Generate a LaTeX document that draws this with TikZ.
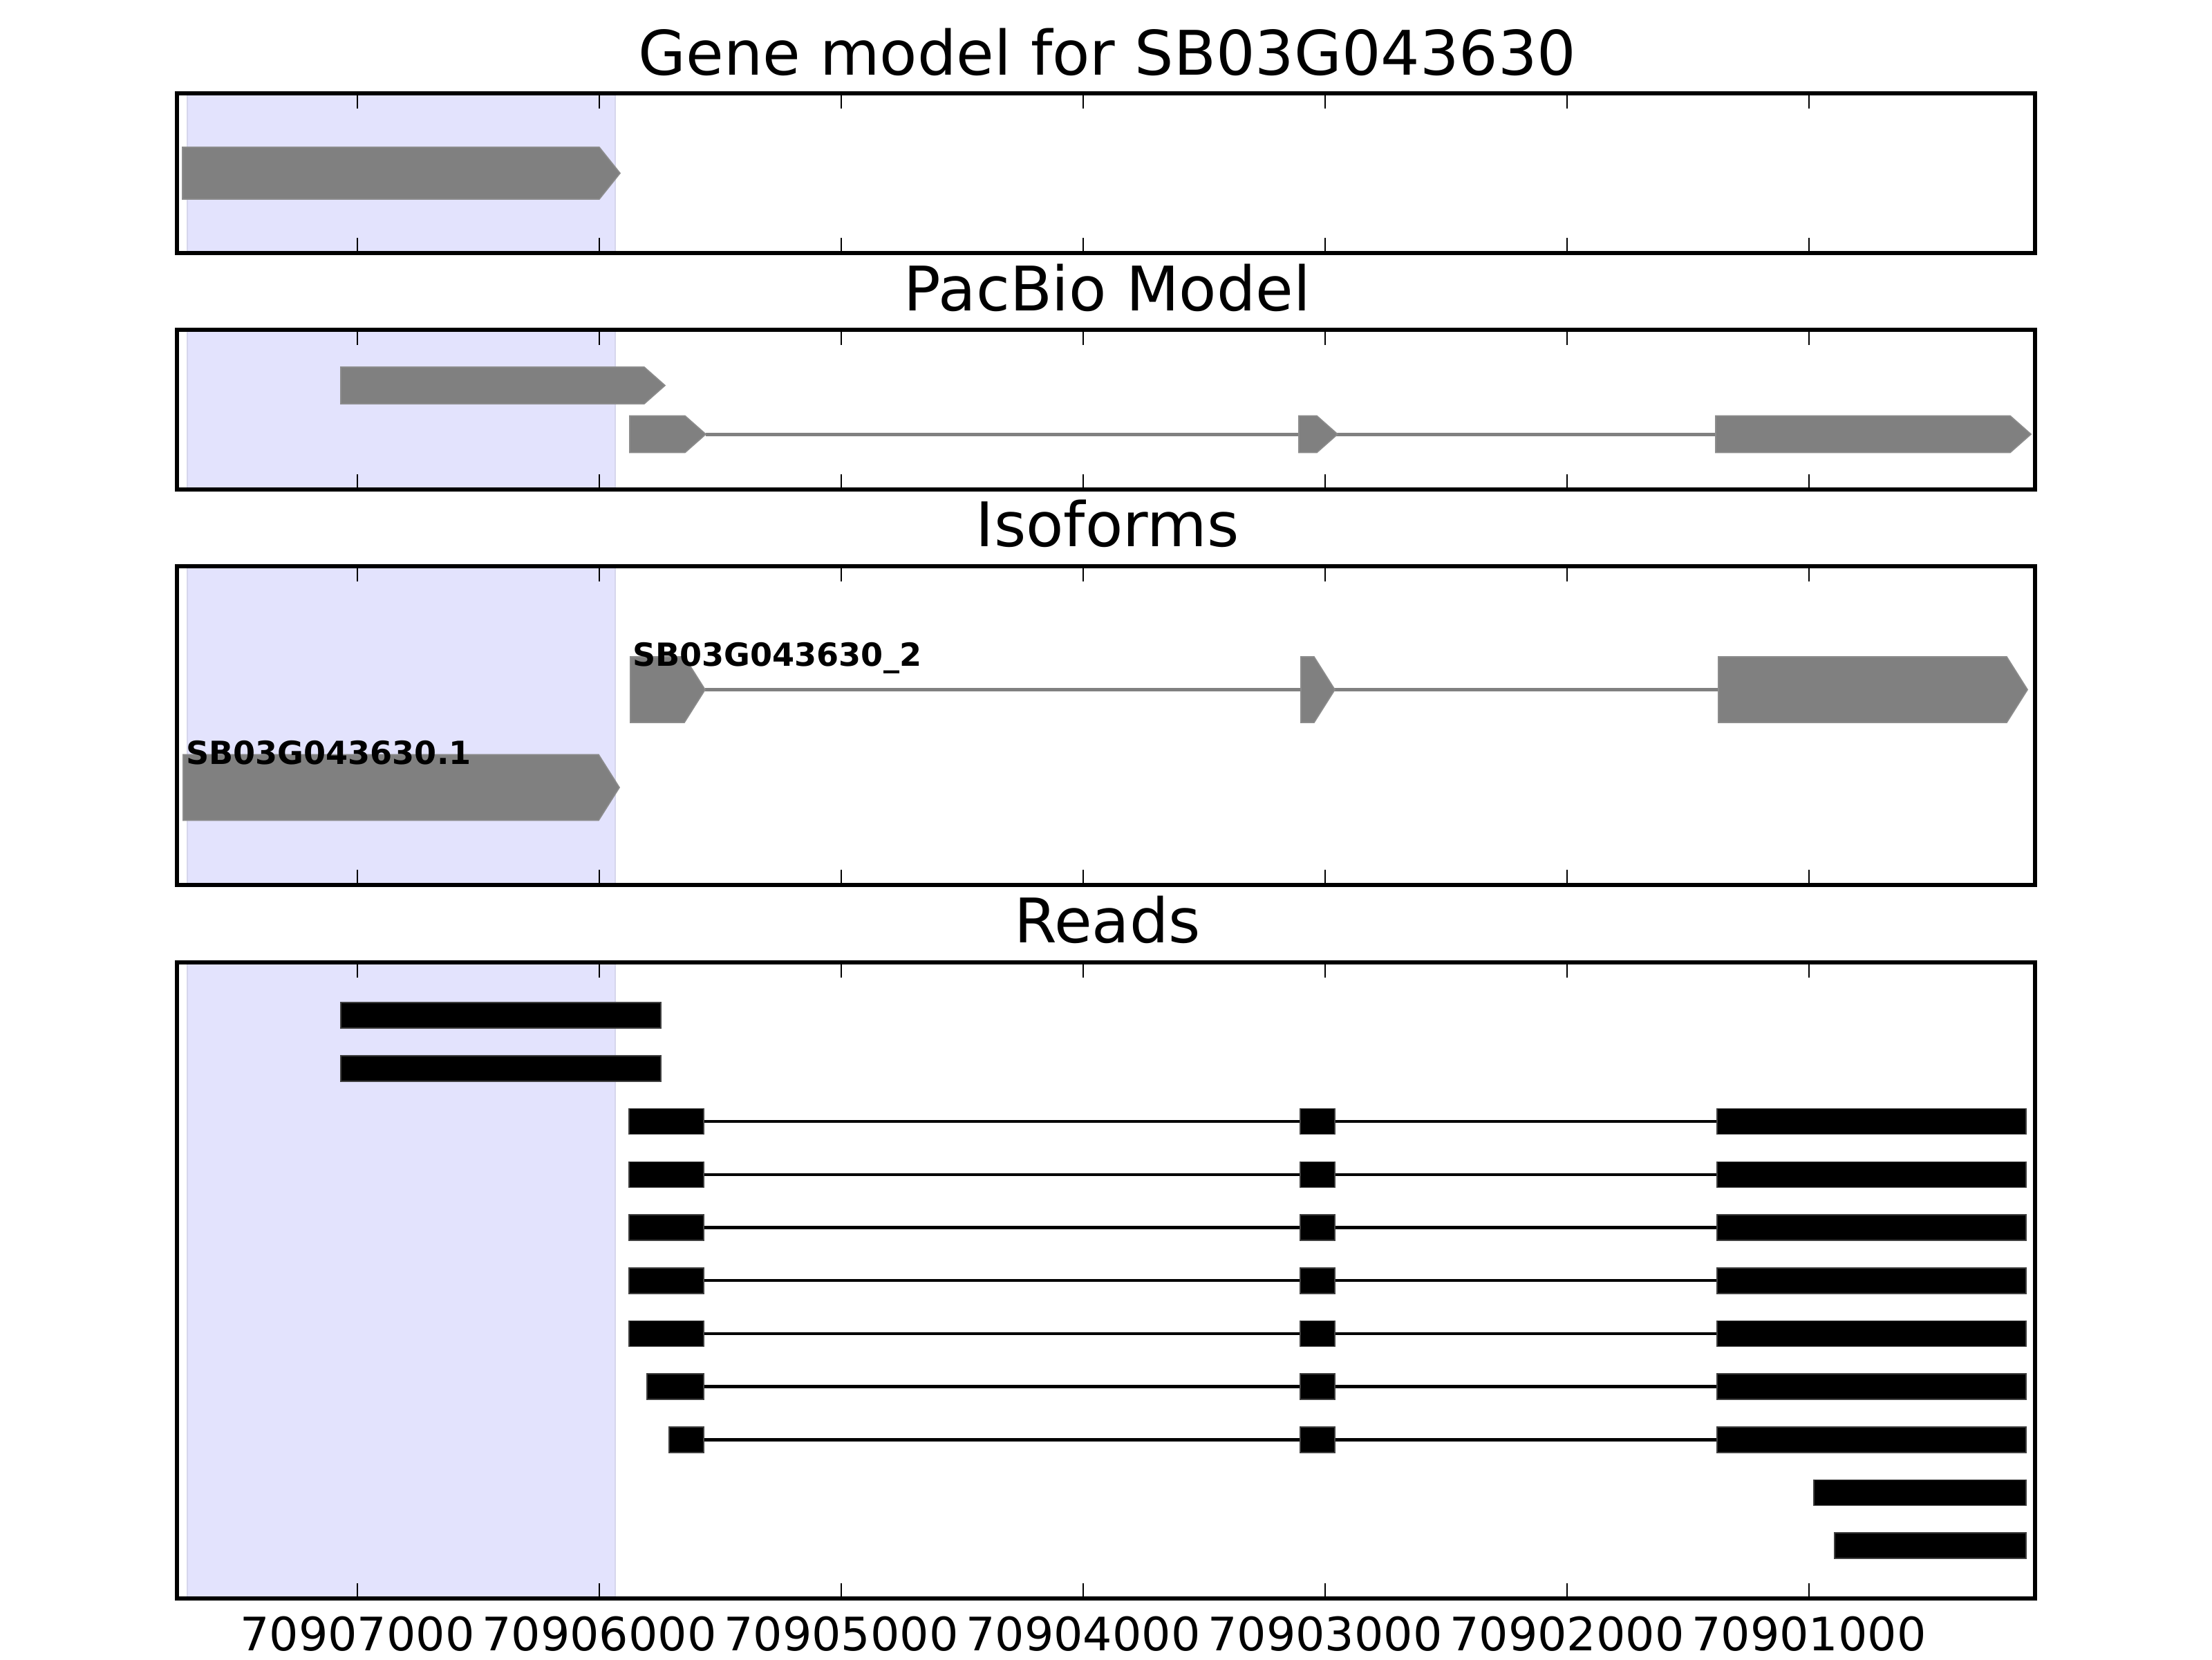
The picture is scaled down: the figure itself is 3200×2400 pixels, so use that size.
\documentclass[tikz,border=0pt]{standalone}
\usepackage{fontspec}
\setmainfont{DejaVu Sans}
\definecolor{shadeblue}{RGB}{227,227,253}
\definecolor{shadeedge}{RGB}{214,214,236}
\definecolor{genegray}{RGB}{128,128,128}
\definecolor{geneedge}{RGB}{140,140,140}
\tikzset{
  frame/.style={line width=1pt},
  tickmark/.style={line width=0.5pt},
  shadebox/.style={fill=shadeblue, draw=shadeedge, line width=0.4pt},
  genestyle/.style={fill=genegray, draw=geneedge, line width=0.3pt},
  geneintron/.style={draw=genegray, line width=0.9pt},
  readblock/.style={fill=black, draw=black!75, line width=0.3pt},
  readintron/.style={draw=black, line width=0.8pt},
  ttl/.style={font=\fontsize{16}{19}\selectfont, anchor=base, inner sep=0pt},
  ticklbl/.style={font=\fontsize{12}{14}\selectfont, anchor=base, inner sep=0pt},
  isolbl/.style={font=\fontsize{8.3}{10}\selectfont\bfseries, anchor=base west, inner sep=0pt}
}
\newcommand\garrow[4]{\filldraw[genestyle] (#1,#3-#4) -- (#2-30,#3-#4) -- (#2,#3) -- (#2-30,#3+#4) -- (#1,#3+#4) -- cycle;}
\newcommand\panelframe[2]{%
  \draw[frame] (256,#1) rectangle (2944,#2);
  \foreach \t in {517,867,1217,1567,1917,2267,2617}{
    \draw[tickmark] (\t,#1) -- ++(0,22);
    \draw[tickmark] (\t,#2) -- ++(0,-22);
  }}
\newcommand\panelshade[2]{\filldraw[shadebox] (271,#1) rectangle (890,#2);}
\begin{document}
\begin{tikzpicture}[x=0.18pt,y=-0.18pt]
\useasboundingbox (0,0) rectangle (3200,2400);
\fill[white] (0,0) rectangle (3200,2400);

% shading
\panelshade{135}{366}
\panelshade{477}{708}
\panelshade{819}{1280}
\panelshade{1392}{2312}

% Panel 1: gene model
\garrow{264}{897}{250.5}{37.5}

% Panel 2: PacBio model
\garrow{493}{962}{557.5}{26.5}
\coordinate (pbA) at (1021,628);
\coordinate (pbB) at (2482,628);
\draw[geneintron] (pbA) -- (pbB);
\garrow{911}{1021}{628}{26.5}
\garrow{1879}{1935}{628}{26.5}
\garrow{2482}{2938}{628}{26.5}

% Panel 3: isoforms
\coordinate (isoA) at (1020,997.5);
\coordinate (isoB) at (2486,997.5);
\draw[geneintron] (isoA) -- (isoB);
\garrow{912}{1020}{997.5}{47.5}
\garrow{1882}{1931}{997.5}{47.5}
\garrow{2486}{2933}{997.5}{47.5}
\garrow{265}{896}{1139}{47.5}
\node[isolbl] (iso2) at (914,963) {SB03G043630\_2};
\node[isolbl] (iso1) at (268,1105) {SB03G043630.1};

% Panel 4: reads
\foreach \k in {1,2}{
  \pgfmathsetmacro\yy{1392+76.7*\k}
  \filldraw[readblock] (493,\yy-18.5) rectangle (956,\yy+18.5);
}
\foreach \k/\a in {3/910,4/910,5/910,6/910,7/910,8/936,9/968}{
  \pgfmathsetmacro\yy{1392+76.7*\k}
  \coordinate (rdA\k) at (1018,\yy);
  \coordinate (rdB\k) at (2484,\yy);
  \draw[readintron] (rdA\k) -- (rdB\k);
  \filldraw[readblock] (\a,\yy-18.5) rectangle (1018,\yy+18.5);
  \filldraw[readblock] (1881,\yy-18.5) rectangle (1931,\yy+18.5);
  \filldraw[readblock] (2484,\yy-18.5) rectangle (2931,\yy+18.5);
}
\foreach \k/\a in {10/2624,11/2654}{
  \pgfmathsetmacro\yy{1392+76.7*\k}
  \filldraw[readblock] (\a,\yy-18.5) rectangle (2931,\yy+18.5);
}

% frames and ticks
\panelframe{135}{366}
\panelframe{477}{708}
\panelframe{819}{1280}
\panelframe{1392}{2312}

% titles
\node[ttl] (t1) at (1602,108) {Gene model for SB03G043630};
\node[ttl] (t2) at (1602,449) {PacBio Model};
\node[ttl] (t3) at (1602,790) {Isoforms};
\node[ttl] (t4) at (1602,1363) {Reads};

% tick labels
\foreach \t/\lab [count=\i] in {517/70907000,867/70906000,1217/70905000,1567/70904000,1917/70903000,2267/70902000,2617/70901000}{
  \node[ticklbl] (tick\i) at (\t,2387) {\lab};
}
\end{tikzpicture}
\end{document}
